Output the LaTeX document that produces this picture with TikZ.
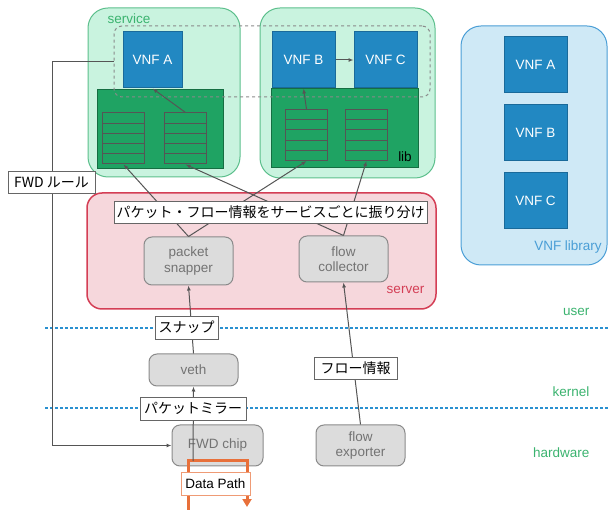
\documentclass[tikz,border=0pt]{standalone}
\usepackage{fontspec}
\setmainfont{Liberation Sans}
\newfontfamily\jp{Noto Sans CJK JP}
\usetikzlibrary{positioning, arrows.meta, calc}
\definecolor{svcfill}{RGB}{201,243,223}
\definecolor{svcline}{RGB}{92,191,140}
\definecolor{libfill}{RGB}{31,163,99}
\definecolor{libline}{RGB}{21,110,66}
\definecolor{vnf}{RGB}{34,136,194}
\definecolor{vnfline}{RGB}{26,106,154}
\definecolor{catfill}{RGB}{207,233,246}
\definecolor{catline}{RGB}{74,158,214}
\definecolor{srvfill}{RGB}{246,215,220}
\definecolor{srvline}{RGB}{212,62,85}
\definecolor{boxfill}{RGB}{220,220,220}
\definecolor{boxline}{RGB}{138,138,138}
\definecolor{lnk}{RGB}{85,85,85}
\definecolor{layer}{RGB}{42,144,208}
\definecolor{layertxt}{RGB}{59,179,111}
\definecolor{dpath}{RGB}{232,112,58}

\begin{document}
\begin{tikzpicture}[x=1pt, y=-1pt, font=\fontsize{13.5}{15.5}\selectfont,
  svc/.style={rounded corners=20pt, draw=svcline, line width=1pt, fill=svcfill, inner sep=0pt},
  zone/.style={rounded corners=8pt, draw=boxline, dashed, line width=1pt, inner sep=0pt, minimum width=316pt, minimum height=71pt},
  vnfbox/.style={draw=vnfline, line width=1pt, fill=vnf, text=white, inner sep=0pt, minimum width=63pt, minimum height=56pt},
  libbox/.style={draw=libline, line width=1pt, fill=libfill, inner sep=0pt, minimum height=79pt},
  queue/.style={draw=lnk, line width=1pt, inner sep=0pt, minimum width=42pt, minimum height=51pt,
    path picture={\foreach \k in {1,...,4}{\draw[lnk, line width=1pt] ($(path picture bounding box.north west)!\k/5!(path picture bounding box.south west)$) -- ++(60pt,0);}}},
  proc/.style={rounded corners=8pt, draw=boxline, line width=1pt, fill=boxfill, text=black!55, align=center, inner sep=0pt, minimum width=89pt},
  tag/.style={draw=black!60, line width=0.8pt, fill=white, inner sep=0pt, font=\jp\fontsize{14}{16}\selectfont},
  layerline/.style={layer, line width=2.5pt, dash pattern=on 2.5pt off 2.5pt},
  layerlbl/.style={anchor=east, text=layertxt},
  ar/.style={-{Latex[length=5pt, width=4pt]}, draw=lnk, line width=1pt}]

\useasboundingbox (0,0) rectangle (608,510);

% services
\node[svc, minimum width=152pt, minimum height=169pt] at (164,92.5) (svcA) {};
\node[svc, minimum width=175pt, minimum height=170pt] at (347.5,93) (svcB) {};
\node[anchor=west, text=layertxt] at (104,19) (svclbl) {service};
\node[libbox, minimum width=126pt] at (160,129.5) (libA) {};
\node[libbox, minimum width=147pt] at (344.5,128.5) (libB) {};
\node at (405,157) (liblbl) {lib};
\node[zone] at (272,61.5) (zone) {};
\node[vnfbox, minimum width=59pt] at (152.5,60) (vnfA) {VNF A};
\node[vnfbox] at (303.5,60) (vnfB) {VNF B};
\node[vnfbox] at (385.5,60) (vnfC) {VNF C};
\node[queue] at (123.5,138.5) (qA1) {};
\node[queue] at (185.5,138.5) (qA2) {};
\node[queue] at (306.5,135) (qB1) {};
\node[queue] at (366.5,135) (qB2) {};

% VNF library
\node[svc, draw=catline, fill=catfill, minimum width=146pt, minimum height=239pt] at (534,145.5) (cat) {};
\node[vnfbox] at (535.5,65) (catA) {VNF A};
\node[vnfbox] at (535.5,133) (catB) {VNF B};
\node[vnfbox] at (535.5,200.5) (catC) {VNF C};
\node[text=catline] at (568,247) (catlbl) {VNF library};

% server
\node[rounded corners=15pt, draw=srvline, line width=1.5pt, fill=srvfill, minimum width=349pt, minimum height=116pt] at (261.5,251) (srv) {};
\node[text=srvline] at (405.5,290) (srvlbl) {server};
\node[proc, minimum height=48pt] at (188.5,261) (snap) {packet\\ snapper};
\node[proc, minimum height=46pt] at (343.5,259) (coll) {flow\\ collector};

% layers
\draw[layerline] (45,328) -- (608,328);
\draw[layerline] (45,408) -- (608,408);
\node[layerlbl] at (593,312) (user) {user};
\node[layerlbl] at (593,392) (kern) {kernel};
\node[layerlbl] at (593,453) (hw) {hardware};

\node[proc, minimum height=32pt] at (193.5,370) (veth) {veth};
\node[proc, minimum width=91pt, minimum height=41pt] at (217.5,445.5) (chip) {FWD chip};
\node[proc, minimum height=41pt] at (360.5,445.5) (exp) {flow\\ exporter};

% data path
\coordinate (dpin) at (188,510);
\coordinate (dpout) at (247,507);
\coordinate (dp) at (193,461);
\draw[dpath, line width=3pt, -{Triangle[length=8pt, width=9pt]}] (dpin) -- (188,461) -- (247,461) -- (dpout);

% connectors
\draw[ar] (vnfB.east) -- (vnfC.west);
\draw[ar] (qA2.north) -- (vnfA.south);
\draw[ar] (qB1.north) -- (vnfB.south);
\draw[ar] (snap.north) -- (qA1.south);
\draw[ar] (snap.north) -- (qB1.south);
\draw[ar] (coll.north) -- (qA2.south);
\draw[ar] (coll.north) -- (qB2.south);
\draw[ar] (veth.north) -- (snap.south);
\draw[ar] (dp) -- (veth.south);
\draw[ar] (exp.north) -- (coll.south);
\coordinate (bend) at (52,61.5);
\draw[ar] (zone.west) -- (bend) |- (chip.west);

% tags
\node[tag, minimum width=313pt, minimum height=22pt] at (270.5,212) (split) {パケット・フロー情報をサービスごとに振り分け};
\node[tag, minimum width=63pt, minimum height=23pt] at (186.5,327.5) (snaptag) {スナップ};
\node[tag, minimum width=106pt, minimum height=23pt] at (193,408.5) (mirror) {パケットミラー};
\node[tag, minimum width=83pt, minimum height=22pt] at (355.5,368) (flowtag) {フロー情報};
\node[tag, minimum width=87pt, minimum height=22pt] at (51.5,182) (rule) {FWD ルール};
\node[tag, draw=dpath!70, font=\fontsize{13.5}{15.5}\selectfont, minimum width=69pt, minimum height=23pt] at (215.5,483.5) (dptag) {Data Path};
\end{tikzpicture}
\end{document}
